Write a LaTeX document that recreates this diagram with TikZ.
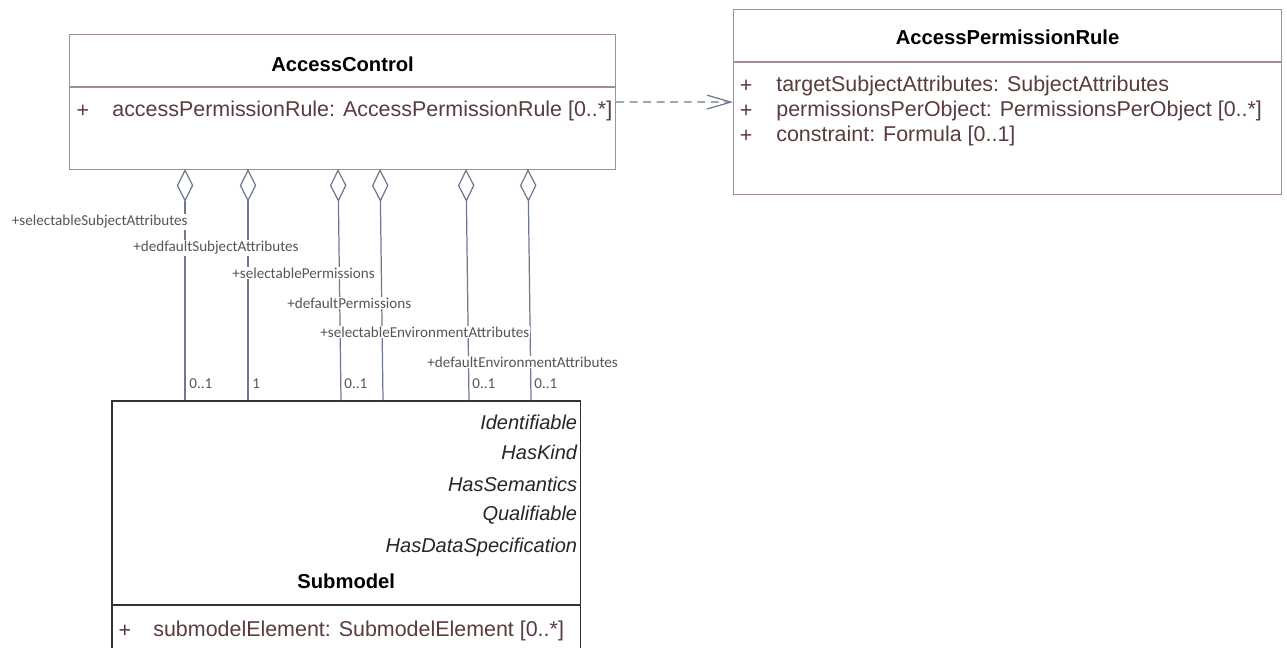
\documentclass[tikz,border=0pt]{standalone}
\usepackage{fontspec}
\setmainfont{Liberation Sans}
\newfontfamily\rolefont{Carlito}
\usetikzlibrary{positioning, arrows.meta, calc}
\definecolor{classframe}{HTML}{A38F8F}
\definecolor{attrbrown}{HTML}{5A3C3C}
\definecolor{assocgrey}{HTML}{6E7891}
\definecolor{rolegrey}{HTML}{555555}

\begin{document}
\begin{tikzpicture}[
  x=0.02cm, y=-0.02cm,
  classbox/.style={
    draw=classframe,
    line width=0.7pt,
    fill=white,
    rectangle,
    anchor=north west,
    inner sep=0pt
  },
  classtitle/.style={font=\fontsize{11.5}{13}\selectfont\bfseries, text=black, inner sep=0pt},
  attrsign/.style={font=\fontsize{12.2}{14}\selectfont, text=attrbrown, inner sep=0pt},
  attrline/.style={font=\fontsize{12.2}{14}\selectfont, text=attrbrown, anchor=west, inner sep=0pt},
  stereo/.style={font=\fontsize{11.4}{13}\selectfont\itshape, text=black!85, anchor=east, inner sep=0pt},
  rolelabel/.style={font=\rolefont\fontsize{8.6}{10}\selectfont, text=rolegrey, fill=white, inner sep=0.6pt},
  multlabel/.style={font=\rolefont\fontsize{8.6}{10}\selectfont, text=rolegrey, anchor=west, inner sep=0pt},
  assoc/.style={draw=assocgrey, line width=0.7pt}
]
  \useasboundingbox (0,0) rectangle (1287,648);
  \clip (0,0) rectangle (1287,648);

  % --- class boxes ---
  \node[classbox, minimum width=10.92cm, minimum height=2.7cm] (ac) at (69,34) {};
  \node[classbox, minimum width=10.96cm, minimum height=3.7cm] (apr) at (733,9) {};
  \node[classbox, draw=black!80, line width=0.9pt, minimum width=9.38cm, minimum height=5.4cm] (sm) at (111,400) {};

  % compartments
  \draw[classframe, line width=0.7pt] ($(ac.north west)+(0,53)$) -- ($(ac.north east)+(0,53)$);
  \draw[classframe, line width=0.7pt] ($(apr.north west)+(0,53)$) -- ($(apr.north east)+(0,53)$);
  \draw[black!80, line width=0.9pt] ($(sm.north west)+(0,205)$) -- ($(sm.north east)+(0,205)$);

  % --- AccessControl ---
  \node[classtitle] (actitle) at ($(ac.north)+(0,30)$) {AccessControl};
  \node[attrsign] (acplus) at ($(ac.north west)+(14,77)$) {+};
  \node[attrline] (acattr) at ($(ac.north west)+(43,77)$) {accessPermissionRule: AccessPermissionRule [0..*]};

  % --- AccessPermissionRule ---
  \node[classtitle] (aprtitle) at ($(apr.north)+(0,28)$) {AccessPermissionRule};
  \foreach \n/\dy/\txt in {1/77/{targetSubjectAttributes: SubjectAttributes},
                           2/102/{permissionsPerObject: PermissionsPerObject [0..*]},
                           3/127/{constraint: Formula [0..1]}}
  {
    \node[attrsign] (aprplus\n) at ($(apr.north west)+(13,\dy)$) {+};
    \node[attrline] (aprattr\n) at ($(apr.north west)+(43,\dy)$) {\txt};
  }

  % --- Submodel ---
  \foreach \n/\dy/\txt in {1/22/Identifiable, 2/52/HasKind, 3/84/HasSemantics,
                           4/115/Qualifiable, 5/147/HasDataSpecification}
    \node[stereo] (smst\n) at ($(sm.north east)+(-4,\dy)$) {\txt};
  \node[classtitle] (smtitle) at ($(sm.north)+(0,181)$) {Submodel};
  \node[attrsign] (smplus) at ($(sm.north west)+(14,231)$) {+};
  \node[attrline] (smattr) at ($(sm.north west)+(42,231)$) {submodelElement: SubmodelElement [0..*]};

  % --- dependency ---
  \draw[assoc, dash pattern=on 4.5pt off 3.2pt, -{Straight Barb[length=4.8mm, width=2.8mm]}] (ac.east) -- (apr.west);

  % --- aggregations ---
  \foreach \n/\xa/\xb in {1/185/185, 2/248/248, 3/338/341, 4/380/383, 5/466/469, 6/528/531}
  {
    \coordinate (agg\n) at (\xa,169);
    \coordinate (end\n) at (\xb,400);
    \draw[assoc, {Diamond[open, length=6.6mm, width=3.3mm]}-] (agg\n) -- (end\n);
  }

  % role names
  \node[rolelabel, anchor=east] (role1) at (189,222) {+selectableSubjectAttributes};
  \node[rolelabel, anchor=west] (role2) at (132,248) {+dedfaultSubjectAttributes};
  \node[rolelabel, anchor=west] (role3) at (231,273) {+selectablePermissions};
  \node[rolelabel, anchor=west] (role4) at (286,303) {+defaultPermissions};
  \node[rolelabel, anchor=west] (role5) at (319,332) {+selectableEnvironmentAttributes};
  \node[rolelabel, anchor=west] (role6) at (426,362) {+defaultEnvironmentAttributes};

  % multiplicities
  \node[multlabel] (mult1) at (189,384) {0..1};
  \node[multlabel] (mult2) at (252,384) {1};
  \node[multlabel] (mult3) at (344,384) {0..1};
  \node[multlabel] (mult5) at (472,384) {0..1};
  \node[multlabel] (mult6) at (534,384) {0..1};

\end{tikzpicture}
\end{document}
